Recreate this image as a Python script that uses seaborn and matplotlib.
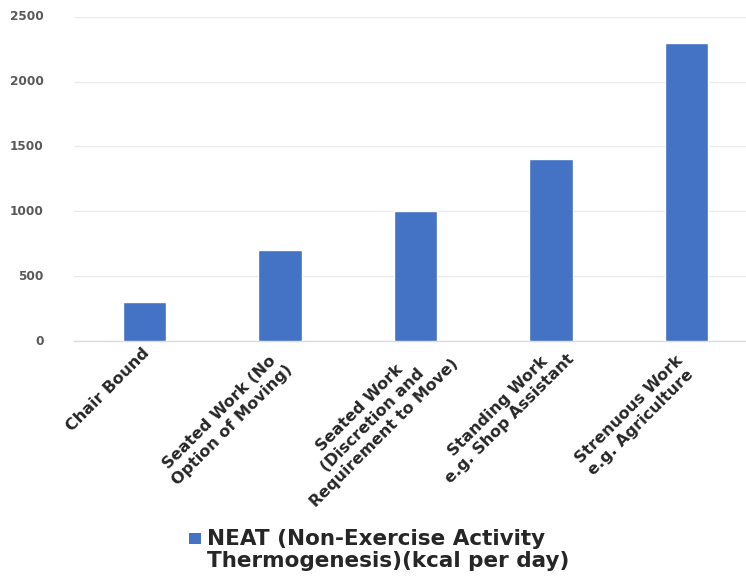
import matplotlib
matplotlib.use("Agg")
import matplotlib.pyplot as plt
import matplotlib.transforms as mtransforms
from matplotlib.patches import Patch, Rectangle
from matplotlib.legend_handler import HandlerPatch
import seaborn as sns
import pandas as pd

categories = [
    "Chair Bound",
    "Seated Work (No\nOption of Moving)",
    "Seated Work\n(Discretion and\nRequirement to Move)",
    "Standing Work\ne.g. Shop Assistant",
    "Strenuous Work\ne.g. Agriculture",
]
neat_kcal = [300, 700, 1000, 1400, 2300]
y_ticks = [0, 500, 1000, 1500, 2000, 2500]
series_name = "NEAT (Non-Exercise Activity\nThermogenesis)(kcal per day)"

bar_color = "#4472C4"
label_color = "#262626"
DPI = 100

sns.set_theme(style="white")
plt.rcParams["font.family"] = ["DejaVu Sans"]

df = pd.DataFrame({"category": categories, "kcal": neat_kcal})

fig = plt.figure(figsize=(7.46, 5.79), dpi=DPI)
ax = fig.add_axes([0.099, 0.411, 0.901, 0.560])

sns.barplot(data=df, x="category", y="kcal", color=bar_color, width=0.32,
            saturation=1, ax=ax, zorder=3)

ax.set_ylim(0, 2500)
ax.set_xlim(-0.52, 4.44)
ax.set_xlabel("")
ax.set_ylabel("")
ax.set_yticks(y_ticks)
ax.set_xticks(range(len(categories)))
ax.tick_params(axis="both", length=0, labelleft=False, labelbottom=False)

ax.yaxis.grid(True, color="#ebebeb", linewidth=1, zorder=0)
ax.xaxis.grid(False)
for side in ["top", "right", "left"]:
    ax.spines[side].set_visible(False)
ax.spines["bottom"].set_color("#dcdcdc")
ax.spines["bottom"].set_linewidth(1)

# Value labels on the left, set well apart from the plotting area
ytrans = mtransforms.blended_transform_factory(ax.transAxes, ax.transData)
ytrans = mtransforms.offset_copy(ytrans, fig=fig, x=-30, y=0, units="dots")
for v in y_ticks:
    ax.text(0, v, str(v), transform=ytrans, ha="right", va="center",
            fontsize=8.7, fontweight="bold", color="#595959")

# Rotated category labels: each block hangs from its first line, which ends
# just before the category position on the axis line.
renderer = fig.canvas.get_renderer()
label_kw = dict(fontsize=11.5, fontweight="bold", color=label_color)


def text_width(s):
    t = fig.text(0, 0, s, **label_kw)
    w = t.get_window_extent(renderer).width
    t.remove()
    return w


base = mtransforms.blended_transform_factory(ax.transData, ax.transAxes)
u = 0.7071
for i, label in enumerate(categories):
    lines = label.split("\n")
    block_w = max(text_width(s) for s in lines)
    inset = (block_w - text_width(lines[0])) / 2
    back = 4 + 12 * (len(lines) - 1)
    shift = inset - back
    trans = mtransforms.offset_copy(base, fig=fig, x=shift * u, y=shift * u - 1,
                                    units="dots")
    ax.text(i, 0, label, transform=trans, rotation=45, rotation_mode="anchor",
            ha="right", va="top", multialignment="center", **label_kw)


class RaisedSquare(HandlerPatch):
    """Square legend key aligned with the first line of a two-line label."""

    def create_artists(self, legend, orig_handle, xdescent, ydescent,
                       width, height, fontsize, trans):
        size = 0.55 * fontsize
        x0 = -xdescent + (width - size) / 2
        y0 = -ydescent + (height - size) / 2 + 0.56 * fontsize
        rect = Rectangle((x0, y0), size, size, transform=trans,
                         facecolor=orig_handle.get_facecolor(),
                         edgecolor="none")
        return [rect]


key = Patch(facecolor=bar_color)
fig.legend([key], [series_name], loc="center", bbox_to_anchor=(0.508, 0.050),
           frameon=False, prop={"weight": "bold", "size": 15.5},
           handlelength=0.6, handletextpad=0.25, labelcolor=label_color,
           handler_map={Patch: RaisedSquare()})
for t in fig.legends[0].get_texts():
    t.set_linespacing(1.12)

fig.savefig("out.png", dpi=DPI)
